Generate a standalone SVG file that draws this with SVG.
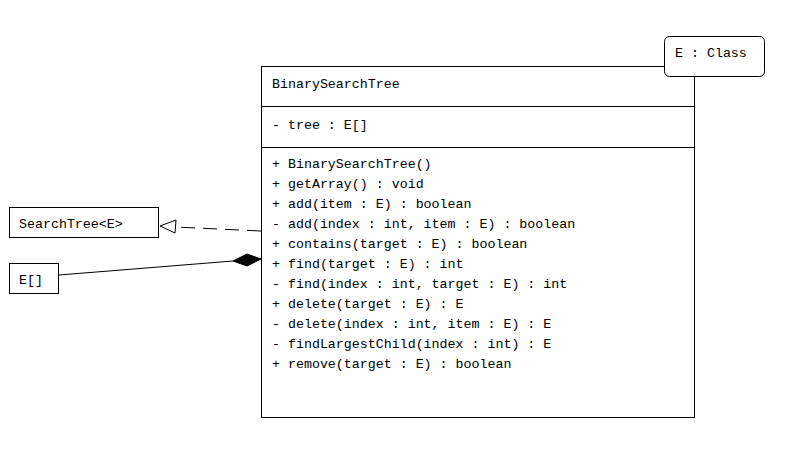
<svg xmlns="http://www.w3.org/2000/svg" width="809" height="462" viewBox="0 0 809 462">
  <style>
    .box { fill: #fff; stroke: #000; stroke-width: 1; }
    .t { font-family: "Liberation Mono", "Courier New", monospace; font-size: 13.3px; fill: #000; }
    .ln { fill: none; stroke: #000; stroke-width: 1; }
  </style>
  <rect width="809" height="462" fill="#fff"/>

  <g id="connectors">
    <!-- realization: BinarySearchTree -> SearchTree<E> -->
    <line class="ln" x1="261" y1="231" x2="175" y2="227" stroke-dasharray="14,8"/>
    <polygon points="160,226 176,220 175,233" fill="#fff" stroke="#000"/>
    <!-- composition: BinarySearchTree owns E[] -->
    <line class="ln" x1="59" y1="275" x2="233" y2="261"/>
    <polygon points="261,259 247,254 233,261 247,266" fill="#000" stroke="#000"/>
  </g>

  <g id="BinarySearchTree">
    <rect class="box" x="261.5" y="66.5" width="433" height="351"/>
    <line class="ln" x1="261.5" y1="106.5" x2="694.5" y2="106.5"/>
    <line class="ln" x1="261.5" y1="147.5" x2="694.5" y2="147.5"/>
    <text class="t" x="272" y="88">BinarySearchTree</text>
    <text class="t" x="272" y="129">- tree : E[]</text>
    <text class="t" x="272" y="168">+ BinarySearchTree()</text>
    <text class="t" x="272" y="188">+ getArray() : void</text>
    <text class="t" x="272" y="208">+ add(item : E) : boolean</text>
    <text class="t" x="272" y="228">- add(index : int, item : E) : boolean</text>
    <text class="t" x="272" y="248">+ contains(target : E) : boolean</text>
    <text class="t" x="272" y="268">+ find(target : E) : int</text>
    <text class="t" x="272" y="288">- find(index : int, target : E) : int</text>
    <text class="t" x="272" y="308">+ delete(target : E) : E</text>
    <text class="t" x="272" y="328">- delete(index : int, item : E) : E</text>
    <text class="t" x="272" y="348">- findLargestChild(index : int) : E</text>
    <text class="t" x="272" y="368">+ remove(target : E) : boolean</text>
  </g>

  <g id="template-param">
    <rect class="box" x="664.5" y="36.5" width="100" height="40" rx="5" ry="5"/>
    <text class="t" x="675" y="57">E : Class</text>
  </g>

  <g id="SearchTree">
    <rect class="box" x="9.5" y="207.5" width="149" height="30"/>
    <text class="t" x="19" y="228">SearchTree&lt;E&gt;</text>
  </g>

  <g id="EArray">
    <rect class="box" x="9.5" y="263.5" width="49" height="30"/>
    <text class="t" x="19" y="284">E[]</text>
  </g>
</svg>
